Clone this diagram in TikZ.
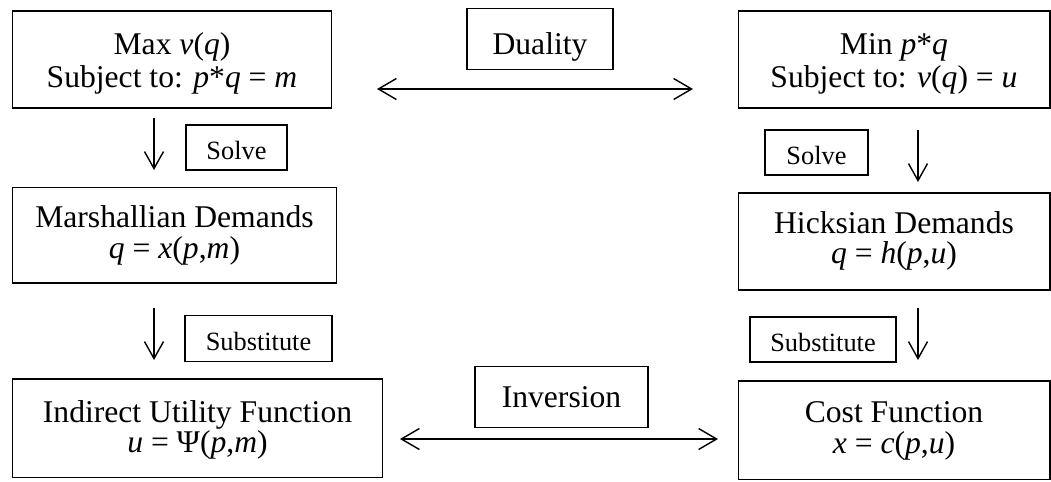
\documentclass[tikz,border=0pt]{standalone}
\usepackage{fontspec}
\setmainfont{Liberation Serif}
\usetikzlibrary{arrows.meta, positioning}

\tikzset{
	box/.style={draw, line width=0.6pt, align=center, inner sep=0pt},
	rows/.style args={#1/#2/#3}{font=\fontsize{18}{#2}\selectfont,
		execute at begin node={\lineskiplimit=-100pt\relax\rule{0pt}{\dimexpr#1+#2\relax}},
		execute at end node={\rule[-#3]{0pt}{#3}}},
	tag/.style args={#1/#2}{box, font=\fontsize{15}{16}\selectfont,
		execute at begin node={\rule{0pt}{#1}}, execute at end node={\rule[-#2]{0pt}{#2}}},
	flow/.style={line width=0.8pt, -{Straight Barb[length=3.4mm, width=3.8mm]}},
	both/.style={line width=0.8pt, {Straight Barb[length=3.6mm, width=4.2mm]}-{Straight Barb[length=3.6mm, width=4.2mm]}}
}

\begin{document}
\begin{tikzpicture}[x=0.02cm, y=-0.02cm]
		
		\useasboundingbox (0,0) rectangle (1051,481);
		
		%// the six main boxes
		\node [box, rows=25pt/18.8pt/11.4pt, minimum width=6.4cm] (maxv) at (172,59.5)
		{Max \textit{v}(\textit{q})\\Subject to: \textit{p}*\textit{q} = \textit{m}};
		\node [box, rows=25pt/18.8pt/11.4pt, minimum width=6.24cm] (minpq) at (894,59.5)
		{Min \textit{p}*\textit{q}\\Subject to: \textit{v}(\textit{q}) = \textit{u}};
		\node [box, rows=23.3pt/17.6pt/13.7pt, minimum width=6.5cm] (marsh) at (174.5,235)
		{Marshallian Demands\\\textit{q} = \textit{x}(\textit{p},\textit{m})};
		\node [box, rows=22.8pt/17.6pt/14.8pt, minimum width=6.24cm] (hicks) at (894,241.5)
		{Hicksian Demands\\\textit{q} = \textit{h}(\textit{p},\textit{u})};
		\node [box, rows=24.5pt/17.1pt/14.2pt, minimum width=7.42cm] (indir) at (197.5,428)
		{Indirect Utility Function\\\textit{u} = Ψ(\textit{p},\textit{m})};
		\node [box, rows=23.9pt/17.1pt/14.8pt, minimum width=6.24cm] (cost) at (894,430)
		{Cost Function\\\textit{x} = \textit{c}(\textit{p},\textit{u})};
		
		%// labels on the arrows
		\node [box, rows=26.2pt/0pt/8pt, minimum width=2.92cm] (duality) at (540,39) {Duality};
		\node [box, rows=22.8pt/0pt/11.4pt, minimum width=3.46cm] (inver) at (561.5,397) {Inversion};
		\node [tag=19.9pt/5.7pt, minimum width=2.02cm] (solveL) at (236.5,147.5) {Solve};
		\node [tag=19.9pt/5.7pt, minimum width=2.06cm] (solveR) at (816.5,152.5) {Solve};
		\node [tag=19.9pt/6.8pt, minimum width=2.94cm] (substL) at (258.5,338.5) {Substitute};
		\node [tag=19.9pt/5.7pt, minimum width=2.92cm] (substR) at (823,339.5) {Substitute};
		
		%// arrow ends
		\coordinate (dualL) at (377,89);
		\coordinate (dualR) at (693,89);
		\coordinate (invL) at (400,439);
		\coordinate (invR) at (718,439);
		\coordinate (solveLa) at (154,118);
		\coordinate (solveLb) at (154,170);
		\coordinate (solveRa) at (918,130);
		\coordinate (solveRb) at (918,182);
		\coordinate (substLa) at (154,308);
		\coordinate (substLb) at (154,360);
		\coordinate (substRa) at (918,308);
		\coordinate (substRb) at (918,360);
		
		\draw [both] (dualL) -- (dualR);
		\draw [both] (invL) -- (invR);
		\foreach \a/\b in {solveLa/solveLb, solveRa/solveRb, substLa/substLb, substRa/substRb}
		\draw [flow] (\a) -- (\b);
		
\end{tikzpicture}
\end{document}
